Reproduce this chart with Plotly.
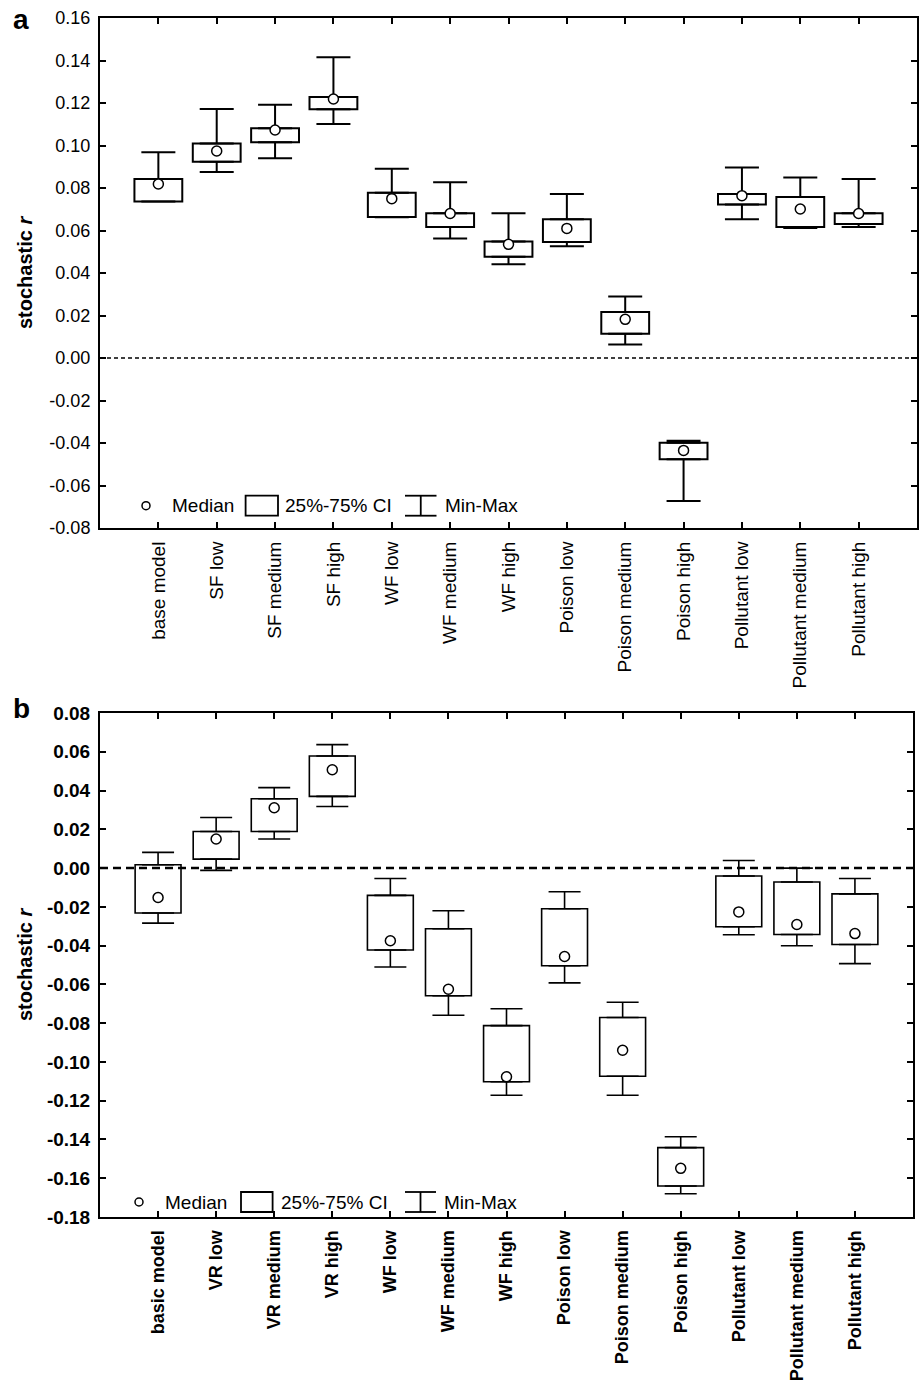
import plotly.graph_objects as go

W, H = 920, 1384

# ---------------- data ----------------
cats_a = ["base model", "SF low", "SF medium", "SF high", "WF low", "WF medium", "WF high",
          "Poison low", "Poison medium", "Poison high", "Pollutant low", "Pollutant medium", "Pollutant high"]
min_a = [0.0736, 0.0875, 0.0940, 0.1101, 0.0662, 0.0562, 0.0441, 0.0526, 0.0063, -0.0673, 0.0653, 0.0612, 0.0616]
q1_a = [0.0736, 0.0924, 0.1015, 0.1170, 0.0664, 0.0616, 0.0477, 0.0546, 0.0114, -0.0477, 0.0722, 0.0616, 0.0631]
med_a = [0.0819, 0.0974, 0.1073, 0.1219, 0.0750, 0.0680, 0.0535, 0.0610, 0.0182, -0.0435, 0.0764, 0.0701, 0.0680]
q3_a = [0.0842, 0.1010, 0.1081, 0.1228, 0.0778, 0.0681, 0.0548, 0.0653, 0.0216, -0.0399, 0.0772, 0.0758, 0.0681]
max_a = [0.0968, 0.1172, 0.1192, 0.1415, 0.0891, 0.0827, 0.0681, 0.0772, 0.0289, -0.0389, 0.0897, 0.0849, 0.0842]

cats_b = ["basic model", "VR low", "VR medium", "VR high", "WF low", "WF medium", "WF high",
          "Poison low", "Poison medium", "Poison high", "Pollutant low", "Pollutant medium", "Pollutant high"]
min_b = [-0.0284, -0.0012, 0.0150, 0.0318, -0.0510, -0.0759, -0.1172, -0.0592, -0.1172, -0.1680, -0.0344, -0.0401, -0.0493]
q1_b = [-0.0232, 0.0046, 0.0189, 0.0370, -0.0423, -0.0659, -0.1102, -0.0504, -0.1074, -0.1640, -0.0303, -0.0343, -0.0394]
med_b = [-0.0152, 0.0150, 0.0311, 0.0507, -0.0375, -0.0625, -0.1077, -0.0456, -0.0940, -0.1549, -0.0226, -0.0291, -0.0338]
q3_b = [0.0017, 0.0189, 0.0358, 0.0578, -0.0141, -0.0313, -0.0813, -0.0210, -0.0771, -0.1442, -0.0041, -0.0072, -0.0133]
max_b = [0.0081, 0.0261, 0.0415, 0.0637, -0.0054, -0.0220, -0.0726, -0.0122, -0.0692, -0.1386, 0.0039, 0.0000, -0.0054]

ytick_a = [0.16, 0.14, 0.12, 0.10, 0.08, 0.06, 0.04, 0.02, 0.00, -0.02, -0.04, -0.06, -0.08]
ytext_a = ["0.16", "0.14", "0.12", "0.10", "0.08", "0.06", "0.04", "0.02", "0.00", "-0.02", "-0.04", "-0.06", "-0.08"]
ytick_b = [0.08, 0.06, 0.04, 0.02, 0.00, -0.02, -0.04, -0.06, -0.08, -0.10, -0.12, -0.14, -0.16, -0.18]
ytext_b = ["0.08", "0.06", "0.04", "0.02", "0.00", "-0.02", "-0.04", "-0.06", "-0.08", "-0.10",
           "-0.12", "-0.14", "-0.16", "-0.18"]

legend_labels = ["Median", "25%-75% CI", "Min-Max"]

FONT = "Liberation Sans, Arial, sans-serif"


def px_x(x):
    return x / W


def px_y(y):
    return 1 - y / H


fig = go.Figure()


def add_panel(cats, mn, q1, med, q3, mx, xa, ya, lw, capw, bw):
    up = [b - a for a, b in zip(q3, mx)]
    dn = [a - b for a, b in zip(q1, mn)]
    zeros = [0] * len(cats)
    fig.add_trace(go.Scatter(x=cats, y=q3, mode="markers", xaxis=xa, yaxis=ya,
                             marker=dict(size=1, color="rgba(0,0,0,0)"),
                             error_y=dict(type="data", symmetric=False, array=up, arrayminus=zeros,
                                          color="black", thickness=lw, width=capw),
                             showlegend=False, hoverinfo="skip"))
    fig.add_trace(go.Scatter(x=cats, y=q1, mode="markers", xaxis=xa, yaxis=ya,
                             marker=dict(size=1, color="rgba(0,0,0,0)"),
                             error_y=dict(type="data", symmetric=False, array=zeros, arrayminus=dn,
                                          color="black", thickness=lw, width=capw),
                             showlegend=False, hoverinfo="skip"))
    fig.add_trace(go.Bar(x=cats, y=[b - a for a, b in zip(q1, q3)], base=q1, width=bw,
                         xaxis=xa, yaxis=ya,
                         marker=dict(color="white", line=dict(color="black", width=lw)),
                         showlegend=False))
    fig.add_trace(go.Scatter(x=cats, y=med, mode="markers", xaxis=xa, yaxis=ya,
                             marker=dict(symbol="circle", size=10, color="white",
                                         line=dict(color="black", width=1.5)),
                             showlegend=False))


add_panel(cats_a, min_a, q1_a, med_a, q3_a, max_a, "x", "y", 2, 17, 0.82)
add_panel(cats_b, min_b, q1_b, med_b, q3_b, max_b, "x2", "y2", 1.6, 16, 0.79)

axis_common = dict(showline=True, linecolor="black", linewidth=2, mirror="ticks",
                   ticks="inside", ticklen=6, tickcolor="black", tickwidth=1.5,
                   showgrid=False, zeroline=False, automargin=False)

fig.update_layout(
    width=W, height=H, margin=dict(l=0, r=0, t=0, b=0),
    paper_bgcolor="white", plot_bgcolor="white", barmode="overlay",
    font=dict(family=FONT, color="black"),
    xaxis=dict(domain=[px_x(100), px_x(917)], anchor="y", type="category", range=[-1, 13],
               tickangle=-90, tickfont=dict(size=19, family=FONT), ticklabelstandoff=4, **axis_common),
    yaxis=dict(domain=[px_y(528), px_y(18)], anchor="x", range=[-0.08, 0.16],
               tickvals=ytick_a, ticktext=ytext_a, tickfont=dict(size=18, family=FONT),
               ticklabelstandoff=4, **axis_common),
    xaxis2=dict(domain=[px_x(100), px_x(913)], anchor="y2", type="category", range=[-1, 13],
                tickangle=-90, tickfont=dict(size=18, family=FONT, weight="bold"), ticklabelstandoff=4,
                **axis_common),
    yaxis2=dict(domain=[px_y(1217), px_y(713)], anchor="x2", range=[-0.18, 0.08],
                tickvals=ytick_b, ticktext=ytext_b, tickfont=dict(size=19, family=FONT, weight="bold"),
                ticklabelstandoff=4, **axis_common),
)

# zero reference lines
fig.add_shape(type="line", xref="x domain", yref="y", x0=0, x1=1, y0=0, y1=0,
              line=dict(color="black", width=1.6, dash="4px,3px"), layer="above")
fig.add_shape(type="line", xref="x2 domain", yref="y2", x0=0, x1=1, y0=0, y1=0,
              line=dict(color="black", width=2.5, dash="8px,5px"), layer="above")

annotations = []
# panel letters
annotations.append(dict(x=px_x(11), y=px_y(19), xref="paper", yref="paper", xanchor="left", yanchor="middle",
                        text="<b>a</b>", showarrow=False, font=dict(size=28, family=FONT)))
annotations.append(dict(x=px_x(11), y=px_y(708), xref="paper", yref="paper", xanchor="left", yanchor="middle",
                        text="<b>b</b>", showarrow=False, font=dict(size=28, family=FONT)))
# y titles
for yc in (273, 965):
    annotations.append(dict(x=px_x(25), y=px_y(yc), xref="paper", yref="paper", xanchor="center",
                            yanchor="middle", textangle=-90, text="<b>stochastic <i>r</i></b>",
                            showarrow=False, font=dict(size=20, family=FONT)))


def add_legend(cx, cy, t1, bx0, bx1, t2, wx0, wx1, t3, half):
    # circle
    fig.add_shape(type="circle", xref="paper", yref="paper",
                  x0=px_x(cx - 4), x1=px_x(cx + 4), y0=px_y(cy + 4), y1=px_y(cy - 4),
                  line=dict(color="black", width=1.5), fillcolor="white")
    # box glyph
    fig.add_shape(type="rect", xref="paper", yref="paper",
                  x0=px_x(bx0), x1=px_x(bx1), y0=px_y(cy + half), y1=px_y(cy - half),
                  line=dict(color="black", width=1.8), fillcolor="white")
    # whisker glyph
    wc = (wx0 + wx1) / 2
    for yy in (cy - half, cy + half):
        fig.add_shape(type="line", xref="paper", yref="paper", x0=px_x(wx0), x1=px_x(wx1),
                      y0=px_y(yy), y1=px_y(yy), line=dict(color="black", width=1.8))
    fig.add_shape(type="line", xref="paper", yref="paper", x0=px_x(wc), x1=px_x(wc),
                  y0=px_y(cy - half), y1=px_y(cy + half), line=dict(color="black", width=1.8))
    for tx, lab in zip((t1, t2, t3), legend_labels):
        annotations.append(dict(x=px_x(tx), y=px_y(cy), xref="paper", yref="paper", xanchor="left",
                                yanchor="middle", text=lab, showarrow=False,
                                font=dict(size=19, family=FONT)))


add_legend(146, 505.7, 170, 245.6, 278, 283, 405, 436.5, 443, 10)
add_legend(139, 1202, 163, 241, 272.6, 279, 405, 436, 442, 10)

fig.update_layout(annotations=annotations)

fig.write_html("out.html", config={"displayModeBar": False},
               post_script="document.body.style.margin='0px';document.body.style.overflow='hidden';")
